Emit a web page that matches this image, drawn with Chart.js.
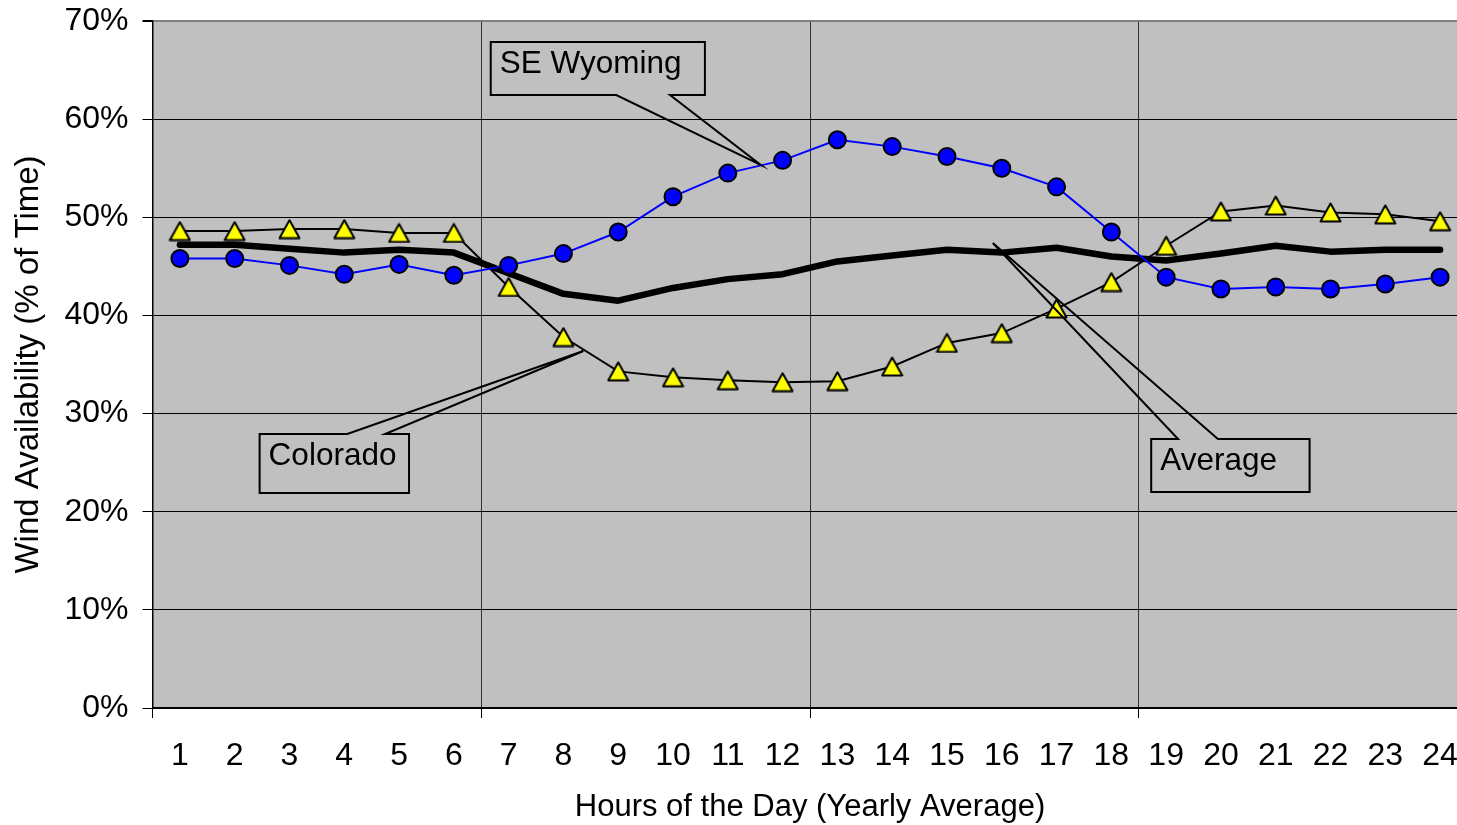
<!DOCTYPE html>
<html>
<head>
<meta charset="utf-8">
<script src="https://cdn.jsdelivr.net/npm/chart.js@4.4.0/dist/chart.umd.min.js"></script>
<style>
html,body{margin:0;padding:0;background:#fff;overflow:hidden;width:1457px;height:825px}
canvas{position:absolute;left:0;top:0}
</style>
</head>
<body>
<canvas id="c" width="1490" height="825"></canvas>
<script>
// ---- data ----
const hours = ['1','2','3','4','5','6','7','8','9','10','11','12','13','14','15','16','17','18','19','20','21','22','23','24'];
const seWyoming = [45.8,45.8,45.1,44.2,45.2,44.1,45.1,46.3,48.5,52.1,54.5,55.8,57.9,57.2,56.2,55.0,53.1,48.5,43.9,42.7,42.9,42.7,43.2,43.9];
const colorado  = [48.6,48.6,48.8,48.8,48.4,48.4,42.9,37.8,34.3,33.7,33.4,33.2,33.3,34.8,37.2,38.2,40.7,43.4,47.1,50.6,51.2,50.5,50.3,49.6];
const average   = [47.2,47.2,46.8,46.4,46.7,46.4,44.3,42.2,41.5,42.8,43.7,44.2,45.5,46.1,46.7,46.4,46.9,46.0,45.6,46.3,47.1,46.5,46.7,46.7];
const yMin = 0, yMax = 70, yStep = 10;

// ---- callout annotations (in data units: category index, percent) ----
const callouts = [
  {text:'SE Wyoming', left:5.673, top:67.86, right:9.582, bottom:62.46, side:'bottom', baseA:7.964, baseB:8.945, tipX:10.6, tipY:55.33},
  {text:'Colorado',   left:1.455, top:27.92, right:4.182, bottom:21.91, side:'top',    baseA:3.055, baseB:3.745, tipX:7.364, tipY:36.38},
  {text:'Average',    left:17.727, top:27.41, right:20.618, bottom:22.01, side:'top',  baseA:18.218, baseB:18.945, tipX:14.836, tipY:47.38}
];

const FONT = "'Liberation Sans', Arial, sans-serif";

function makeTriangle(){
  const c = document.createElement('canvas');
  const w = 23, h = 21;
  c.width = w; c.height = h;
  const g = c.getContext('2d');
  g.beginPath();
  g.moveTo(w/2, 1.5);
  g.lineTo(w-1.5, h-1.5);
  g.lineTo(1.5, h-1.5);
  g.closePath();
  g.fillStyle = '#FFFF00';
  g.fill();
  g.lineWidth = 2;
  g.strokeStyle = '#000';
  g.lineJoin = 'round';
  g.stroke();
  return c;
}
const tri = makeTriangle();

const bgPlugin = {
  id:'bg',
  beforeDraw(chart){
    const {ctx, chartArea:a} = chart;
    ctx.save();
    ctx.fillStyle = '#C0C0C0';
    ctx.fillRect(a.left, a.top, a.right-a.left, a.bottom-a.top);
    ctx.restore();
  }
};

const calloutPlugin = {
  id:'callouts',
  afterDatasetsDraw(chart){
    const ctx = chart.ctx;
    const xs = chart.scales.x, ys = chart.scales.y;
    const px = v => xs.left + (v + 0.5) * (xs.width / hours.length);
    const py = v => ys.getPixelForValue(v);
    ctx.save();
    callouts.forEach(c => {
      const L = px(c.left), R = px(c.right), T = py(c.top), B = py(c.bottom);
      const A = px(c.baseA), Bb = px(c.baseB), tx = px(c.tipX), ty = py(c.tipY);
      ctx.fillStyle = '#C0C0C0';
      ctx.fillRect(L, T, R-L, B-T);
      ctx.beginPath();
      if (c.side === 'bottom') {
        ctx.moveTo(A, B); ctx.lineTo(L, B); ctx.lineTo(L, T); ctx.lineTo(R, T); ctx.lineTo(R, B); ctx.lineTo(Bb, B);
      } else {
        ctx.moveTo(A, T); ctx.lineTo(L, T); ctx.lineTo(L, B); ctx.lineTo(R, B); ctx.lineTo(R, T); ctx.lineTo(Bb, T);
      }
      ctx.lineTo(tx, ty);
      ctx.closePath();
      ctx.lineWidth = 2;
      ctx.strokeStyle = '#000';
      ctx.lineJoin = 'miter';
      ctx.stroke();
      ctx.fillStyle = '#000';
      ctx.font = '31.5px ' + FONT;
      ctx.textBaseline = 'alphabetic';
      ctx.textAlign = 'left';
      ctx.fillText(c.text, L + 9, T + 31);
    });
    ctx.restore();
  }
};

new Chart(document.getElementById('c'), {
  type:'line',
  data:{
    labels: hours,
    datasets:[
      {label:'SE Wyoming', data: seWyoming, borderColor:'#0000FF', borderWidth:2, pointStyle:'circle', pointRadius:8.5, pointBackgroundColor:'#0000FF', pointBorderColor:'#000', pointBorderWidth:2, tension:0},
      {label:'Average', data: average, borderColor:'#000', borderWidth:6.5, pointRadius:0, tension:0, borderCapStyle:'round', borderJoinStyle:'round'},
      {label:'Colorado', data: colorado, borderColor:'#000', borderWidth:2, pointStyle: tri, pointRadius:10, tension:0}
    ]
  },
  options:{
    responsive:false,
    animation:false,
    devicePixelRatio:1,
    layout:{padding:{top:21, left:0, right:22.5, bottom:0}},
    plugins:{legend:{display:false}, tooltip:{enabled:false}},
    scales:{
      x:{
        offset:true,
        afterFit(s){ s.height = 117; s.paddingLeft = 0; s.paddingRight = 0; },
        grid:{
          offset:true,
          color: c => (c.index !== undefined && c.index % 6 === 0) ? '#303030' : 'rgba(0,0,0,0)',
          tickColor: c => (c.index !== undefined && c.index % 6 === 0) ? '#000' : 'rgba(0,0,0,0)',
          lineWidth:1,
          tickLength:10
        },
        border:{color:'#000', width:2},
        ticks:{color:'#000', font:{family:FONT, size:32}, autoSkip:false, maxRotation:0, padding:19},
        title:{display:true, text:'Hours of the Day (Yearly Average)', color:'#000', font:{family:FONT, size:31, lineHeight:1.1}, padding:{top:0,bottom:0}}
      },
      y:{
        min:yMin, max:yMax,
        afterFit(s){ s.width = 152.5; s.paddingTop = 0; s.paddingBottom = 0; },
        grid:{
          color: c => (c.tick && c.tick.value === yMax) ? '#808080' : '#000',
          lineWidth: c => (c.tick && c.tick.value === yMax) ? 2 : 1,
          tickColor:'#000',
          tickLength:10
        },
        border:{color:'#000', width:1.5},
        ticks:{stepSize:yStep, color:'#000', font:{family:FONT, size:32}, padding:14, callback: v => v + '%'},
        title:{display:true, text:'Wind Availability (% of Time)', color:'#000', font:{family:FONT, size:33}, padding:{top:9,bottom:0}}
      }
    }
  },
  plugins:[bgPlugin, calloutPlugin]
});
</script>
</body>
</html>
